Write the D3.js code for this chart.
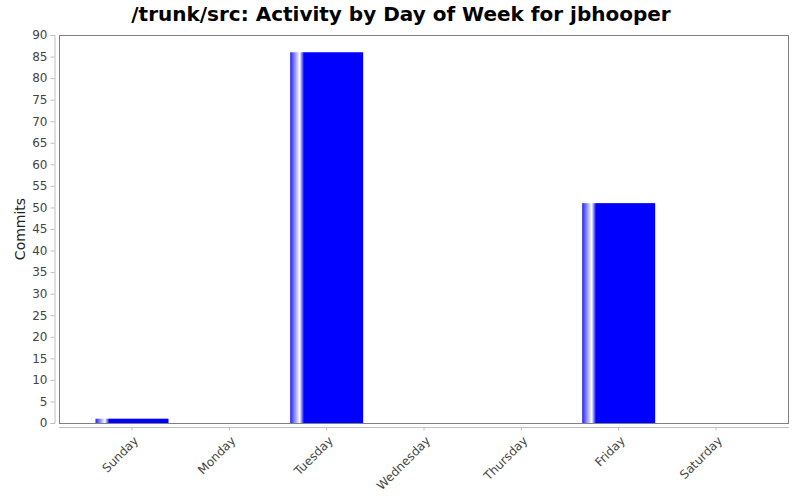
<!DOCTYPE html>
<meta charset="utf-8">
<head>
  <title>Activity by Day of Week</title>
  <style>
    body { margin: 0; background: #fff; }
    svg text { font-family: "DejaVu Sans", sans-serif; fill: #444; }
  </style>
  <script src="https://d3js.org/d3.v7.min.js"></script>
</head>
<body>
<svg id="chart" width="800" height="500"></svg>
<script>
var days = ['Sunday', 'Monday', 'Tuesday', 'Wednesday', 'Thursday', 'Friday', 'Saturday'];
var commits = [1, 0, 86, 0, 0, 51, 0];
var yTicks = d3.range(0, 91, 5);
var title = '/trunk/src: Activity by Day of Week for jbhooper';

var svg = d3.select('#chart');
var plotLeft = 59, plotRight = 789, plotTop = 35, plotBottom = 423;

var x = d3.scaleBand().domain(days).range([plotLeft, plotRight])
  .paddingInner(0.25).paddingOuter(0.375);
var y = d3.scaleLinear().domain([0, 90]).range([plotBottom, plotTop]);

// bar shading
var grad = svg.append('defs').append('linearGradient')
  .attr('id', 'barShade').attr('x1', '0%').attr('x2', '100%').attr('y1', '0%').attr('y2', '0%');
grad.append('stop').attr('offset', '0%').attr('stop-color', '#2020ff');
grad.append('stop').attr('offset', '13%').attr('stop-color', '#ffffff');
grad.append('stop').attr('offset', '19%').attr('stop-color', '#0000ff');
grad.append('stop').attr('offset', '100%').attr('stop-color', '#0000ff');

svg.append('text')
  .attr('x', 401).attr('y', 21)
  .attr('text-anchor', 'middle')
  .style('font-size', '20px').style('font-weight', 'bold').style('fill', '#000')
  .text(title);

// bars
svg.append('g').selectAll('rect')
  .data(days.map(function(d, i) { return {day: d, v: commits[i]}; }).filter(function(d) { return d.v > 0; }))
  .enter().append('rect')
  .attr('x', function(d) { return x(d.day); })
  .attr('width', x.bandwidth())
  .attr('y', function(d) { return y(d.v); })
  .attr('height', function(d) { return y(0) - y(d.v); })
  .attr('fill', 'url(#barShade)');

// plot frame
svg.append('rect')
  .attr('x', plotLeft + 0.5).attr('y', plotTop + 0.5)
  .attr('width', plotRight - plotLeft - 1).attr('height', plotBottom - plotTop)
  .attr('fill', 'none').attr('stroke', '#808080');

// y axis
var yAxis = svg.append('g')
  .attr('transform', 'translate(54.5,0)')
  .call(d3.axisLeft(y).tickValues(yTicks).tickSize(4).tickPadding(3));
yAxis.select('.domain').attr('stroke', '#c0c0c0');
yAxis.selectAll('.tick line').attr('stroke', '#c0c0c0');
yAxis.selectAll('.tick text').style('font-size', '12px').style('fill', '#444');

// x axis
var xAxis = svg.append('g')
  .attr('transform', 'translate(0,427.5)')
  .call(d3.axisBottom(x).tickSize(3).tickSizeOuter(0));
xAxis.select('.domain').attr('stroke', '#c0c0c0').attr('d', 'M' + plotLeft + ',0H' + plotRight);
xAxis.selectAll('.tick line').attr('stroke', '#c0c0c0');
xAxis.selectAll('.tick text')
  .style('font-size', '12px').style('fill', '#444')
  .attr('text-anchor', 'end')
  .attr('dy', null)
  .attr('transform', 'translate(7,14) rotate(-45)')
  .attr('x', 0).attr('y', 0);

svg.append('text')
  .attr('transform', 'translate(25,229) rotate(-90)')
  .attr('text-anchor', 'middle')
  .style('font-size', '14px').style('fill', '#222')
  .text('Commits');
</script>
</body>
</html>
